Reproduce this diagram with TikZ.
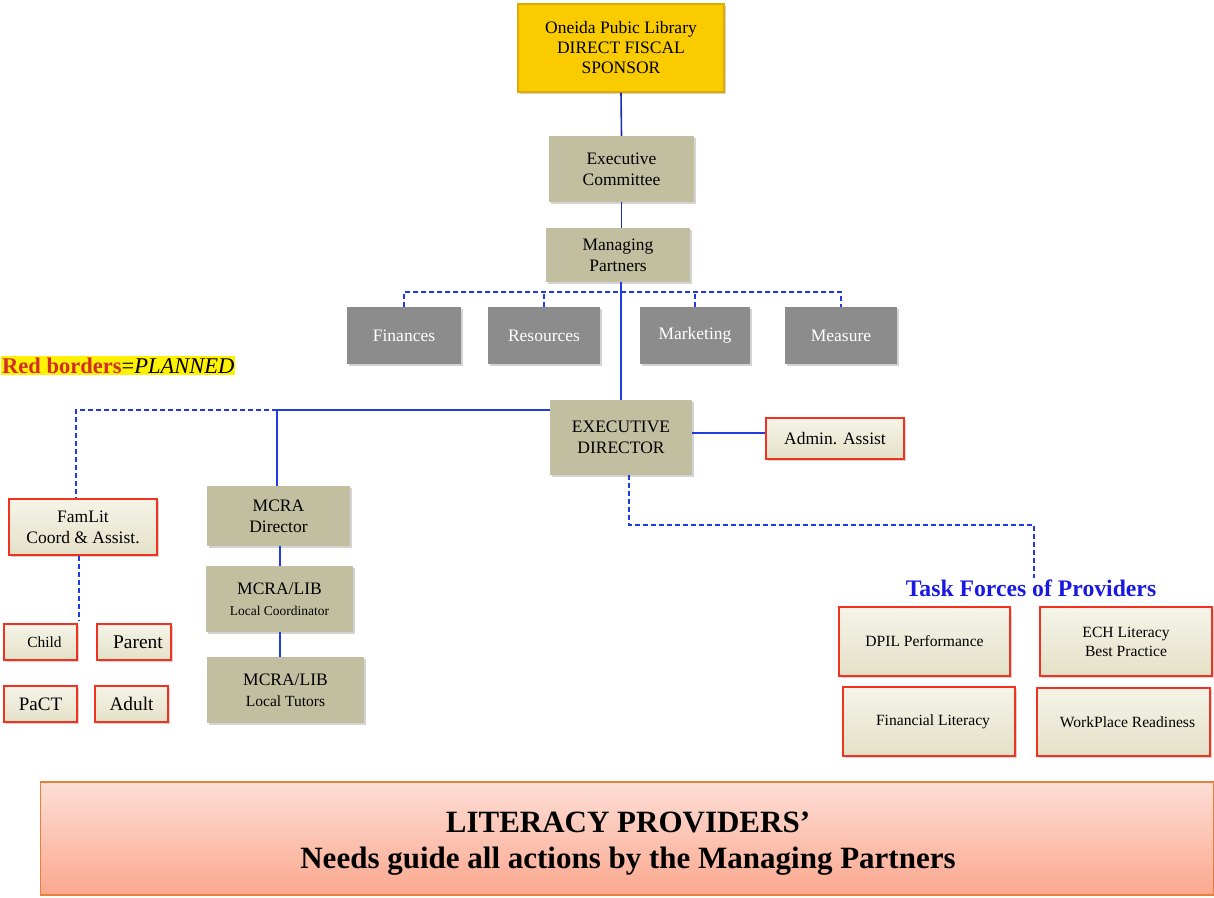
\documentclass[tikz,border=0pt]{standalone}
\usepackage{fontspec}
\setmainfont{Liberation Serif}
\usetikzlibrary{shadows}
\definecolor{goldc}{RGB}{250,204,0}
\definecolor{goldd}{RGB}{224,170,0}
\definecolor{khakic}{RGB}{194,191,160}
\definecolor{grayc}{RGB}{140,140,140}
\definecolor{redc}{RGB}{240,50,30}
\definecolor{creamt}{RGB}{245,244,232}
\definecolor{creamb}{RGB}{228,225,200}
\definecolor{linec}{RGB}{30,60,225}
\definecolor{linedk}{RGB}{25,45,170}
\definecolor{bant}{RGB}{253,222,214}
\definecolor{banb}{RGB}{251,168,142}
\definecolor{band}{RGB}{232,128,60}
\definecolor{tfblue}{RGB}{25,25,225}
\definecolor{lblred}{RGB}{210,45,45}
\tikzset{
  boxbase/.style={align=center, inner sep=0pt, drop shadow={shadow xshift=2pt, shadow yshift=-2pt, opacity=0.35}},
  goldbox/.style={boxbase, fill=goldc, draw=goldd, line width=1.5pt, font=\fontsize{17.5}{20}\selectfont},
  khakibox/.style={boxbase, fill=khakic, font=\fontsize{17.5}{21}\selectfont},
  graybox/.style={boxbase, fill=grayc, text=white, font=\fontsize{17.5}{20}\selectfont},
  planbox/.style={boxbase, draw=redc, line width=1.5pt, top color=creamt, bottom color=creamb, font=\fontsize{15.6}{19}\selectfont},
  solidline/.style={draw=linec, line width=1.6pt},
  topline/.style={draw=linedk, line width=1.6pt},
  dashline/.style={draw=linec, line width=1.6pt, dash pattern=on 5pt off 3pt},
}
\begin{document}
\begin{tikzpicture}[x=1pt,y=-1pt]
\useasboundingbox (0,0) rectangle (1214,897);
% top chain
\node[goldbox, minimum width=206pt, minimum height=88pt] (opl) at (621,48) {Oneida Pubic Library\\DIRECT FISCAL\\SPONSOR};
\node[khakibox, minimum width=145pt, minimum height=66pt] (ec) at (621.5,169) {Executive\\Committee};
\node[khakibox, minimum width=144pt, minimum height=54pt] (mp) at (618,255) {Managing\\Partners};
% committees
\node[graybox, minimum width=114pt, minimum height=57pt] (fin) at (404,335.5) {Finances};
\node[graybox, minimum width=112pt, minimum height=57pt] (res) at (544,335.5) {Resources};
\node[graybox, minimum width=110pt, minimum height=57pt] (mkt) at (695,335.5) {Marketing};
\node[graybox, minimum width=112pt, minimum height=57pt] (mea) at (841,335.5) {\raisebox{-2pt}{Measure}};
% legend
\node[fill=yellow, inner xsep=1pt, inner ysep=2pt, anchor=west, font=\fontsize{22.5}{26}\selectfont] (leg) at (1,365.5) {\textcolor{lblred}{\textbf{Red borders}}=\textit{PLANNED}};
% executive director
\node[khakibox, minimum width=142pt, minimum height=75pt] (ed) at (621,437.5) {EXECUTIVE\\DIRECTOR};
\node[planbox, minimum width=138pt, minimum height=41pt, font=\fontsize{17.5}{20}\selectfont] (adm) at (835,438.5) {Admin. Assist};
% left branches
\node[planbox, minimum width=148pt, minimum height=56pt, font=\fontsize{17.5}{21}\selectfont] (fam) at (83,527) {FamLit\\Coord \& Assist.};
\node[khakibox, minimum width=143pt, minimum height=60pt] (mcra) at (278.5,516) {MCRA\\Director};
\node[khakibox, minimum width=147pt, minimum height=66pt] (lc) at (279.5,599) {MCRA/LIB\\{\fontsize{13.5}{15}\selectfont Local Coordinator}};
\node[khakibox, minimum width=157pt, minimum height=66pt] (lt) at (285.5,690) {MCRA/LIB\\{\fontsize{15.5}{17}\selectfont Local Tutors}};
\node[planbox, minimum width=73pt, minimum height=36pt, font=\fontsize{15.4}{17}\selectfont] (child) at (40.5,642) {\hspace*{8pt}Child};
\node[planbox, minimum width=74pt, minimum height=36pt, font=\fontsize{19.5}{21}\selectfont] (par) at (134,642) {\hspace*{8pt}Parent};
\node[planbox, minimum width=73pt, minimum height=36pt, font=\fontsize{19}{21}\selectfont] (pact) at (40.5,704) {PaCT};
\node[planbox, minimum width=73pt, minimum height=36pt, font=\fontsize{19.3}{21}\selectfont] (adult) at (131.5,704) {Adult};
% task forces
\node[text=tfblue, font=\bfseries\fontsize{23.7}{26}\selectfont] (tf) at (1031,588) {Task Forces of Providers};
\node[planbox, minimum width=171pt, minimum height=69pt] (dpil) at (924.5,641.5) {DPIL Performance};
\node[planbox, minimum width=172pt, minimum height=69pt] (ech) at (1126,641.5) {ECH Literacy\\Best Practice};
\node[planbox, minimum width=172pt, minimum height=69pt] (finl) at (929,721.5) {\hspace*{8pt}Financial Literacy};
\node[planbox, minimum width=173pt, minimum height=68pt] (wp) at (1123.5,722) {\hspace*{8pt}WorkPlace Readiness};
% banner
\node[draw=band, line width=1.5pt, top color=bant, bottom color=banb, minimum width=1173pt, minimum height=113pt, inner sep=0pt] (ban) at (627,838.5) {};
\node[align=center, inner sep=0pt, font=\bfseries\fontsize{31}{36}\selectfont] (bantext) at (628,844) {LITERACY PROVIDERS'\\Needs guide all actions by the Managing Partners};
% connectors
\draw[topline] (opl.south) -- (ec.north);
\draw[topline] (ec.south) -- (ec.south |- mp.north);
\coordinate (bus) at (402,292);
\draw[dashline] (fin.north) -- (fin.north |- bus) -- (mea.north |- bus) -- (mea.north);
\draw[dashline] (res.north) -- (res.north |- bus);
\draw[dashline] (mkt.north) -- (mkt.north |- bus);
\draw[solidline] (mp.south -| ed.north) -- (ed.north);
\coordinate (edl) at (550,410);
\coordinate (jn) at (277,410);
\coordinate (fj) at (76,410);
\draw[solidline] (edl) -- (jn) -- (jn |- mcra.north);
\draw[dashline] (jn) -- (fj) -- (fj |- fam.north);
\draw[solidline] (280,546) -- (280,566);
\draw[solidline] (280,632) -- (280,657);
\coordinate (famend) at (79,620);
\draw[dashline] (famend |- fam.south) -- (famend);
\draw[solidline] (ed.east |- 0,433) -- (adm.west |- 0,433);
\coordinate (edb) at (629,475);
\coordinate (tfe) at (1034,578);
\draw[dashline] (edb) -- (629,525) -- (1034,525) -- (tfe);
\end{tikzpicture}
\end{document}
